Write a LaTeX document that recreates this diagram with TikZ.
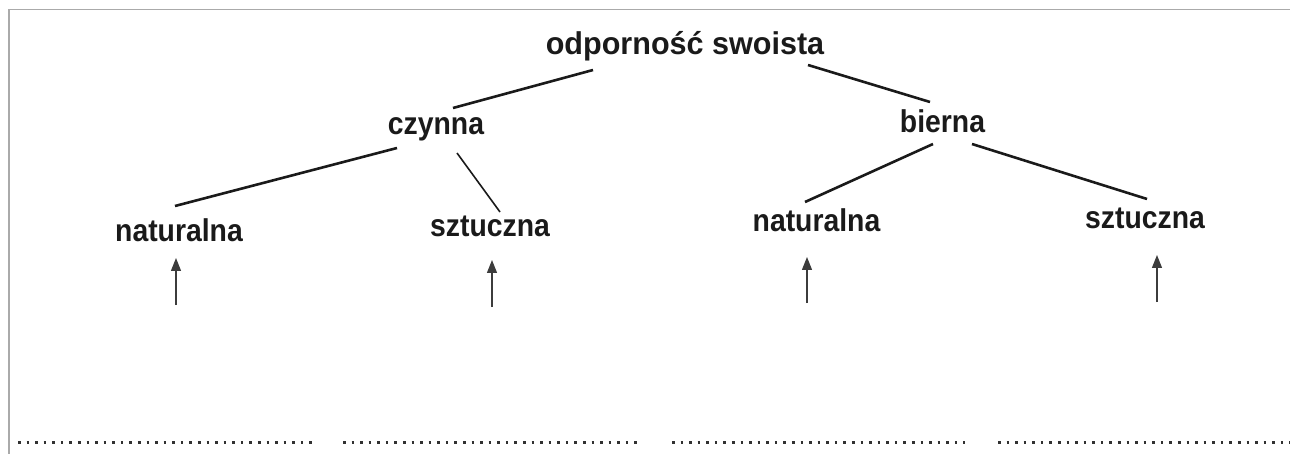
\documentclass[tikz,border=0pt]{standalone}
\usepackage{fontspec}
\setmainfont{Liberation Sans}
\newfontfamily\topfont{Liberation Sans}[FakeStretch=0.97]
\newfontfamily\lowfont{Liberation Sans}[FakeStretch=0.9]
\usetikzlibrary{arrows.meta}
\definecolor{ink}{HTML}{1A1A1A}
\definecolor{frame}{HTML}{AAAAAA}
\tikzset{
  toplabel/.style={anchor=base, inner sep=0pt, text=ink, font=\topfont\bfseries\fontsize{31.5}{36}\selectfont},
  lowlabel/.style={anchor=base, inner sep=0pt, text=ink, font=\lowfont\bfseries\fontsize{31.5}{36}\selectfont},
  branch/.style={draw=ink, line width=2.6pt},
  uparrow/.style={draw=ink!85, line width=1.3pt, -{Triangle[length=13pt,width=10pt]}},
  dotline/.style={draw=ink!90, line width=3pt, dash pattern=on 2.6pt off 5.97pt},
  frameline/.style={draw=frame, line width=1.6pt}
}
\begin{document}
\begin{tikzpicture}[x=1pt,y=-1pt]
\useasboundingbox (0,0) rectangle (1290,454);
% frame
\draw[frameline] (1290,9.5) -- (9,9.5) -- (9,454);
% nodes
\node[toplabel] (top) at (685,55) {odporność swoista};
\node[lowlabel] (czy) at (436,135) {czynna};
\node[lowlabel] (bie) at (942.5,133) {bierna};
\node[lowlabel] (natL) at (179,242) {naturalna};
\node[lowlabel] (sztL) at (490,237) {sztuczna};
\node[lowlabel] (natR) at (816.5,232) {naturalna};
\node[lowlabel] (sztR) at (1145,229) {sztuczna};
% branches
\draw[branch] ([shift={(-92,15)}]top.base) -- ([shift={(17,-27)}]czy.base);
\draw[branch] ([shift={(123,10)}]top.base) -- ([shift={(-12.5,-31)}]bie.base);
\draw[branch] ([shift={(-39,13)}]czy.base) -- ([shift={(-4,-36)}]natL.base);
\draw[line width=1.6pt, draw=ink] ([shift={(21,18)}]czy.base) -- ([shift={(10,-25)}]sztL.base);
\draw[branch] ([shift={(-9.5,11)}]bie.base) -- ([shift={(-11.5,-30)}]natR.base);
\draw[branch] ([shift={(29.5,11)}]bie.base) -- ([shift={(2,-30)}]sztR.base);
% arrows
\coordinate (a1) at (176,305);
\coordinate (a2) at (492,307);
\coordinate (a3) at (807,303);
\coordinate (a4) at (1157,302);
\draw[uparrow] (a1) -- ([shift={(-3,16)}]natL.base);
\draw[uparrow] (a2) -- ([shift={(2,23)}]sztL.base);
\draw[uparrow] (a3) -- ([shift={(-9.5,25)}]natR.base);
\draw[uparrow] (a4) -- ([shift={(12,26)}]sztR.base);
% dotted answer lines
\coordinate (d1a) at (18,442);  \coordinate (d1b) at (313,442);
\coordinate (d2a) at (343,442); \coordinate (d2b) at (637,442);
\coordinate (d3a) at (672,442); \coordinate (d3b) at (965,442);
\coordinate (d4a) at (998,442); \coordinate (d4b) at (1290,442);
\draw[dotline] (d1a) -- (d1b);
\draw[dotline] (d2a) -- (d2b);
\draw[dotline] (d3a) -- (d3b);
\draw[dotline] (d4a) -- (d4b);
\end{tikzpicture}
\end{document}
